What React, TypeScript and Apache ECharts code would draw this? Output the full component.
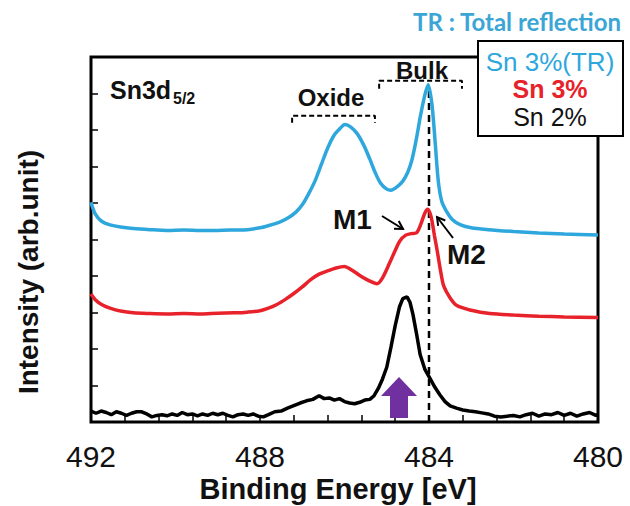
import React, { useEffect, useRef } from "react";
import * as echarts from "echarts";

const xTicks = [480, 484, 488, 492];

const blueTR: number[][] = [
  [492.0, 6.02], [491.9, 5.7], [491.75, 5.5], [491.55, 5.4], [491.3, 5.34], [491.0, 5.3],
  [490.6, 5.27], [490.2, 5.25], [489.8, 5.26], [489.4, 5.25], [489.0, 5.25], [488.6, 5.26],
  [488.3, 5.27], [488.0, 5.32], [487.8, 5.38], [487.55, 5.47], [487.35, 5.58], [487.15, 5.75],
  [487.0, 5.95], [486.85, 6.25], [486.7, 6.6], [486.55, 7.05], [486.4, 7.5], [486.25, 7.85],
  [486.1, 8.05], [485.99, 8.15], [485.85, 8.08], [485.7, 7.9], [485.55, 7.6], [485.4, 7.2],
  [485.28, 6.85], [485.15, 6.55], [485.0, 6.38], [484.9, 6.35], [484.75, 6.45], [484.62, 6.6],
  [484.5, 6.85], [484.4, 7.2], [484.3, 7.75], [484.2, 8.4], [484.1, 8.95], [484.02, 9.24],
  [483.93, 8.7], [483.85, 7.6], [483.78, 6.6], [483.7, 6.05], [483.6, 5.8], [483.45, 5.55],
  [483.25, 5.4], [483.0, 5.32], [482.6, 5.27], [482.0, 5.22], [481.4, 5.18], [480.8, 5.15],
  [480.0, 5.12],
];

const redSn3: number[][] = [
  [492.0, 3.51], [491.9, 3.35], [491.75, 3.22], [491.55, 3.12], [491.3, 3.04], [491.0, 2.99],
  [490.6, 2.97], [490.2, 2.96], [489.8, 2.97], [489.4, 2.96], [489.0, 2.98], [488.6, 2.99],
  [488.3, 3.01], [488.0, 3.05], [487.8, 3.12], [487.6, 3.22], [487.4, 3.36], [487.2, 3.52],
  [487.0, 3.7], [486.8, 3.9], [486.6, 4.05], [486.4, 4.14], [486.2, 4.22], [486.0, 4.26],
  [485.85, 4.18], [485.63, 4.01], [485.4, 3.86], [485.23, 3.79], [485.1, 3.95], [484.92, 4.39],
  [484.8, 4.7], [484.69, 4.96], [484.55, 5.12], [484.42, 5.16], [484.3, 5.18], [484.2, 5.4],
  [484.1, 5.72], [484.03, 5.83], [483.95, 5.62], [483.87, 5.1], [483.8, 4.65], [483.72, 4.1],
  [483.65, 3.72], [483.5, 3.4], [483.34, 3.19], [483.0, 3.06], [482.56, 2.97], [482.0, 2.93],
  [481.4, 2.9], [480.8, 2.88], [480.0, 2.86],
];

const blackSn2: number[][] = [
  [492.0, 0.3], [491.88, 0.24], [491.76, 0.3], [491.64, 0.26], [491.52, 0.2], [491.4, 0.28],
  [491.28, 0.24], [491.16, 0.18], [491.04, 0.24], [490.92, 0.28], [490.8, 0.28], [490.68, 0.22],
  [490.56, 0.14], [490.44, 0.18], [490.32, 0.2], [490.2, 0.17], [490.08, 0.22], [489.96, 0.18],
  [489.84, 0.26], [489.72, 0.2], [489.6, 0.22], [489.48, 0.17], [489.36, 0.22], [489.24, 0.18],
  [489.12, 0.24], [489.0, 0.2], [488.88, 0.24], [488.76, 0.18], [488.64, 0.14], [488.52, 0.2],
  [488.4, 0.22], [488.28, 0.18], [488.16, 0.22], [488.04, 0.16], [487.92, 0.14], [487.8, 0.2],
  [487.65, 0.28], [487.5, 0.3], [487.35, 0.38], [487.2, 0.45], [487.05, 0.52], [486.9, 0.58],
  [486.75, 0.62], [486.6, 0.72], [486.48, 0.64], [486.36, 0.66], [486.24, 0.6], [486.12, 0.64],
  [486.0, 0.56], [485.88, 0.52], [485.76, 0.5], [485.64, 0.54], [485.52, 0.6], [485.4, 0.62],
  [485.3, 0.72], [485.2, 0.92], [485.1, 1.18], [485.0, 1.5], [484.9, 2.05], [484.8, 2.64],
  [484.7, 3.15], [484.62, 3.38], [484.52, 3.43], [484.45, 3.28], [484.38, 2.95], [484.3, 2.45],
  [484.21, 1.85], [484.1, 1.45], [483.98, 1.2], [483.86, 0.95], [483.74, 0.74], [483.62, 0.56],
  [483.5, 0.44], [483.35, 0.38], [483.2, 0.33], [483.05, 0.3], [482.9, 0.28], [482.75, 0.25],
  [482.6, 0.22], [482.45, 0.16], [482.3, 0.14], [482.15, 0.16], [482.0, 0.18], [481.85, 0.14],
  [481.7, 0.2], [481.55, 0.24], [481.4, 0.16], [481.25, 0.22], [481.1, 0.2], [480.95, 0.26],
  [480.8, 0.18], [480.65, 0.24], [480.5, 0.16], [480.35, 0.22], [480.2, 0.26], [480.05, 0.18],
  [480.0, 0.2],
];

const bulkLine: number[][] = [[484.0, 0], [484.0, 9.15]];
const oxideBracket: number[][] = [[487.24, 8.2], [487.24, 8.39], [485.28, 8.39], [485.28, 8.2]];
const bulkBracket: number[][] = [[485.18, 9.13], [485.18, 9.35], [483.22, 9.35], [483.22, 9.13]];
const seriesNames = ["Sn 3%(TR)", "Sn 3%", "Sn 2%"];
const seriesColors = ["#2ea7dd", "#e8222a", "#000000"];

const FONT = 'Arial, "Liberation Sans", sans-serif';

function arrow(x1: number, y1: number, x2: number, y2: number) {
  const dx = x2 - x1;
  const dy = y2 - y1;
  const len = Math.sqrt(dx * dx + dy * dy);
  const ux = dx / len;
  const uy = dy / len;
  const h = 9;
  const a = Math.PI / 6;
  const p1 = [x2 - h * (ux * Math.cos(a) - uy * Math.sin(a)), y2 - h * (uy * Math.cos(a) + ux * Math.sin(a))];
  const p2 = [x2 - h * (ux * Math.cos(a) + uy * Math.sin(a)), y2 - h * (uy * Math.cos(a) - ux * Math.sin(a))];
  return [
    { type: "line", z: 100, shape: { x1, y1, x2, y2 }, style: { stroke: "#000", lineWidth: 2 } },
    { type: "polyline", z: 100, shape: { points: [p1, [x2, y2], p2] }, style: { stroke: "#000", lineWidth: 2, fill: null } },
  ];
}

export default function App() {
  const ref = useRef<HTMLDivElement>(null);
  useEffect(() => {
    if (!ref.current) return;
    const chart = echarts.init(ref.current, undefined, { renderer: "svg" });
    const lineBase = (name: string, data: number[][], color: string, smooth: number | boolean) => ({
      name,
      type: "line",
      data,
      showSymbol: false,
      symbol: "none",
      smooth,
      silent: true,
      lineStyle: { color, width: 3.5 },
      z: 3,
    });
    const option: any = {
      animation: false,
      backgroundColor: "#fff",
      grid: { left: 91, top: 57, width: 507, height: 365, show: true, borderColor: "#000", borderWidth: 3, backgroundColor: "transparent" },
      xAxis: {
        type: "value",
        min: xTicks[0],
        max: xTicks[xTicks.length - 1],
        interval: 4,
        inverse: true,
        axisLine: { show: false },
        axisTick: { show: true, inside: true, length: 7, lineStyle: { color: "#000", width: 1.5 } },
        minorTick: { show: true, splitNumber: 5, length: 7, lineStyle: { color: "#000", width: 1.5 } },
        splitLine: { show: false },
        minorSplitLine: { show: false },
        axisLabel: { margin: 19, fontSize: 30, color: "#111", fontFamily: FONT, showMinLabel: true, showMaxLabel: true },
      },
      yAxis: {
        type: "value",
        min: 0,
        max: 10,
        interval: 1,
        axisLine: { show: false },
        axisTick: { show: true, inside: true, length: 7, lineStyle: { color: "#000", width: 1.5 } },
        axisLabel: { show: false },
        splitLine: { show: false },
      },
      series: [
        lineBase(seriesNames[0], blueTR, seriesColors[0], 0.3),
        lineBase(seriesNames[1], redSn3, seriesColors[1], 0.3),
        lineBase(seriesNames[2], blackSn2, seriesColors[2], false),
        {
          type: "line", data: bulkLine, symbol: "none", silent: true, z: 2,
          lineStyle: { color: "#000", width: 2.5, type: [7, 5] },
        },
        {
          type: "line", data: oxideBracket, symbol: "none", silent: true,
          lineStyle: { color: "#000", width: 2, type: [5, 3] },
        },
        {
          type: "line", data: bulkBracket, symbol: "none", silent: true,
          lineStyle: { color: "#000", width: 2, type: [5, 3] },
        },
      ],
      graphic: [
        { type: "text", z: 100, x: 110, y: 90, style: { text: "Sn3d", font: `bold 25px ${FONT}`, fill: "#111", verticalAlign: "middle" } },
        { type: "text", z: 100, x: 173, y: 98, style: { text: "5/2", font: `bold 16px ${FONT}`, fill: "#111", verticalAlign: "middle" } },
        { type: "text", z: 100, x: 331, y: 97, style: { text: "Oxide", font: `bold 24px ${FONT}`, fill: "#111", align: "center", verticalAlign: "middle" } },
        { type: "text", z: 100, x: 422, y: 70, style: { text: "Bulk", font: `bold 24px ${FONT}`, fill: "#111", align: "center", verticalAlign: "middle" } },
        { type: "text", z: 100, x: 333, y: 219, style: { text: "M1", font: `bold 28px ${FONT}`, fill: "#111", verticalAlign: "middle" } },
        { type: "text", z: 100, x: 447, y: 254, style: { text: "M2", font: `bold 28px ${FONT}`, fill: "#111", verticalAlign: "middle" } },
        ...arrow(382, 216, 403, 229),
        ...arrow(453, 238, 437, 217),
        {
          type: "polygon", z: 100,
          shape: { points: [[399, 377], [417, 396], [408, 396], [408, 418], [390, 418], [390, 396], [381, 396]] },
          style: { fill: "#7030a0" },
        },
        { type: "rect", z: 100, shape: { x: 478, y: 41, width: 145, height: 95 }, style: { fill: "#fff", stroke: "#000", lineWidth: 2 } },
        { type: "text", z: 101, x: 550, y: 62, style: { text: seriesNames[0], font: `26px ${FONT}`, fill: seriesColors[0], align: "center", verticalAlign: "middle" } },
        { type: "text", z: 101, x: 550, y: 89, style: { text: seriesNames[1], font: `bold 25px ${FONT}`, fill: seriesColors[1], align: "center", verticalAlign: "middle" } },
        { type: "text", z: 101, x: 550, y: 117, style: { text: seriesNames[2], font: `25px ${FONT}`, fill: "#111", align: "center", verticalAlign: "middle" } },
        { type: "text", z: 101, x: 621, y: 21, style: { text: "TR : Total reflection", font: `bold 24px Lato, ${FONT}`, fill: "#3ba6d6", align: "right", verticalAlign: "middle" } },
        { type: "text", z: 100, x: 28, y: 272, rotation: Math.PI / 2, style: { text: "Intensity (arb.unit)", font: `bold 28px ${FONT}`, fill: "#111", align: "center", verticalAlign: "middle" } },
        { type: "text", z: 100, x: 338, y: 489, style: { text: "Binding Energy [eV]", font: `bold 29px ${FONT}`, fill: "#111", align: "center", verticalAlign: "middle" } },
      ],
    };
    chart.setOption(option);
    return () => chart.dispose();
  }, []);
  return <div ref={ref} style={{ position: "absolute", left: 0, top: 0, width: 630, height: 506 }} />;
}
